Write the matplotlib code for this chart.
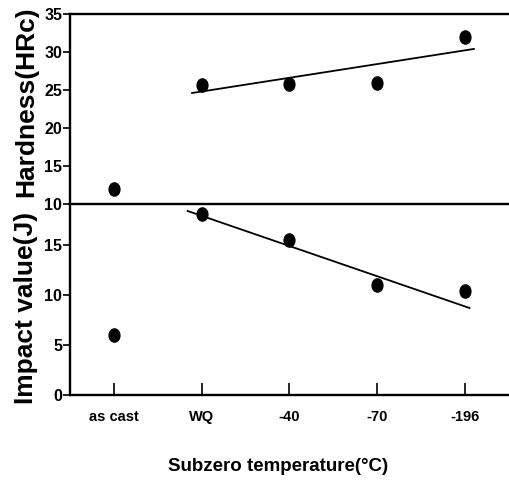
import matplotlib.pyplot as plt
import numpy as np
from matplotlib.path import Path
from matplotlib.transforms import Affine2D

# treatment conditions along the x axis
conditions = ['as cast', 'WQ', '-40', '-70', '-196']

hardness = [12.0, 25.6, 25.8, 25.9, 32.0]
impact = [6.0, 18.1, 15.5, 11.0, 10.4]

# trend lines drawn over the subzero treated samples (end points)
hard_trend_x = [0.89, 4.10]
hard_trend_y = [24.6, 30.4]
imp_trend_x = [0.84, 4.05]
imp_trend_y = [18.4, 8.7]

xpos = np.arange(len(conditions))

# dots in the original are a bit taller than wide
oval = Path.unit_circle().transformed(Affine2D().scale(0.82, 1.0))

bold = dict(family='Liberation Sans', weight='bold')

fig = plt.figure(figsize=(5.09, 4.82), dpi=100)
ax1 = fig.add_axes([0.1375, 0.5768, 0.8625, 0.3942])
ax2 = fig.add_axes([0.1375, 0.1805, 0.8625, 0.3963])
ax2.patch.set_visible(False)
ax1.set_zorder(2)
ax1.patch.set_visible(False)

ax1.plot(xpos, hardness, ls='none', marker=oval, ms=9.5, color='black')
ax1.plot(hard_trend_x, hard_trend_y, color='black', lw=1.3)

ax2.plot(xpos, impact, ls='none', marker=oval, ms=9.5, color='black')
ax2.plot(imp_trend_x, imp_trend_y, color='black', lw=1.3)

for ax in (ax1, ax2):
    ax.set_xlim(-0.5, 4.5)
    ax.spines['right'].set_visible(False)
    for s in ax.spines.values():
        s.set_linewidth(1.7)
    ax.tick_params(axis='y', direction='out', length=5, width=1.2, pad=0.5)

ax1.set_ylim(10, 35)
ax1.set_yticks([10, 15, 20, 25, 30, 35])
ax1.set_xticks([])
ax1.set_yticklabels(['10', '15', '20', '25', '30', '35'], fontsize=11.5, **bold)

ax2.set_ylim(0, 19.1)
ax2.set_yticks([0, 5, 10, 15])
ax2.set_yticklabels(['0', '5', '10', '15'], fontsize=11.5, **bold)
ax2.spines['top'].set_visible(False)
ax2.set_xticks(xpos)
ax2.set_xticklabels(conditions, fontsize=10.5, **bold)
ax2.tick_params(axis='x', direction='in', length=9, width=1.2, pad=11)

ax1.set_ylabel('Hardness(HRc)', fontsize=19, **bold)
ax1.yaxis.set_label_coords(-0.073, 0.537)
ax2.set_ylabel('Impact value(J)', fontsize=19, **bold)
ax2.yaxis.set_label_coords(-0.073, 0.455)

fig.text(0.546, 0.033, 'Subzero temperature(\u00b0C)', ha='center', va='center',
         fontsize=13.5, **bold)

fig.savefig('out.png', dpi=100)
